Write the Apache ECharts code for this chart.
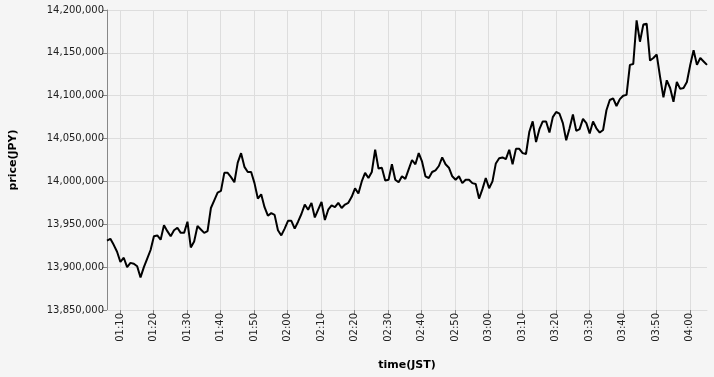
<!DOCTYPE html>
<html>
<head>
<meta charset="utf-8">
<script src="https://cdn.jsdelivr.net/npm/echarts@6/dist/echarts.min.js"></script>
<style>
html,body{margin:0;padding:0;background:#f5f5f5;}
#chart{width:714px;height:377px;}
</style>
</head>
<body>
<div id="chart"></div>
<script>
// Start time 01:06:07, one sample per minute
const startTime = [1, 6, 7];
const prices = [
13931,13933,13926,13918,13906,13911,13900,13905,13904,13901,
13888,13900,13910,13920,13936,13937,13932,13949,13942,13936,
13943,13946,13940,13940,13953,13923,13930,13948,13944,13940,
13942,13969,13978,13987,13989,14010,14010,14005,13999,14022,
14033,14017,14011,14011,13998,13980,13985,13970,13960,13963,
13961,13943,13937,13945,13954,13954,13945,13953,13962,13973,
13967,13975,13958,13967,13976,13955,13967,13972,13970,13975,
13969,13973,13975,13982,13992,13986,14000,14010,14004,14011,
14037,14015,14016,14001,14002,14020,14002,13999,14006,14003,
14014,14025,14020,14033,14023,14006,14004,14011,14013,14018,
14028,14020,14016,14006,14002,14006,13998,14002,14002,13998,
13997,13980,13991,14004,13992,14000,14021,14027,14028,14026,
14037,14020,14038,14038,14033,14032,14058,14070,14046,14061,
14070,14070,14057,14075,14081,14079,14068,14048,14062,14078,
14059,14061,14073,14068,14056,14070,14062,14057,14060,14083,
14095,14097,14088,14096,14100,14101,14136,14137,14188,14163,
14183,14184,14141,14144,14148,14122,14098,14118,14109,14093,
14116,14108,14109,14116,14136,14153,14136,14144,14140,14136
].map(v => v * 1000);
const xTickLabels = ['01:10','01:20','01:30','01:40','01:50','02:00','02:10','02:20','02:30',
  '02:40','02:50','03:00','03:10','03:20','03:30','03:40','03:50','04:00'];
const yMin = 13850000, yMax = 14200000, yStep = 50000;

// x values: minutes since 00:00
const t0 = startTime[0] * 60 + startTime[1] + startTime[2] / 60;
const seriesData = prices.map((p, i) => [t0 + i, p]);
const tMin = seriesData[0][0], tMax = seriesData[seriesData.length - 1][0];
const xTicks = xTickLabels.map(s => { const [h, m] = s.split(':').map(Number); return h * 60 + m; });

const pad = n => (n < 10 ? '0' : '') + n;
const fmtTime = v => { const m = Math.round(v); return pad(Math.floor(m / 60)) + ':' + pad(m % 60); };
const chart = echarts.init(document.getElementById('chart'), null, {renderer: 'canvas'});
chart.setOption({
  backgroundColor: '#f5f5f5',
  animation: false,
  grid: {left: 107, right: 7, top: 10, bottom: 67, containLabel: false},
  xAxis: {
    type: 'value',
    min: tMin, max: tMax,
    name: 'time(JST)',
    nameLocation: 'middle',
    nameGap: 50,
    nameTextStyle: {fontFamily: 'DejaVu Sans', fontSize: 11, fontWeight: 'bold', color: '#000'},
    axisLine: {show: true, lineStyle: {color: '#dddddd', width: 1}},
    axisTick: {show: true, length: 5, lineStyle: {color: '#888'}, customValues: xTicks},
    splitLine: {show: true, lineStyle: {color: '#dddddd', width: 1}},
    axisLabel: {
      rotate: 90, margin: 3, fontFamily: 'DejaVu Sans', fontSize: 10, color: '#222',
      customValues: xTicks,
      formatter: fmtTime
    }
  },
  yAxis: {
    type: 'value',
    min: yMin, max: yMax, interval: yStep,
    name: 'price(JPY)',
    nameLocation: 'middle',
    nameGap: 88,
    nameTextStyle: {fontFamily: 'DejaVu Sans', fontSize: 11, fontWeight: 'bold', color: '#000'},
    axisLine: {show: true, lineStyle: {color: '#888', width: 1}},
    axisTick: {show: true, length: 5, lineStyle: {color: '#888'}},
    splitLine: {show: true, lineStyle: {color: '#dddddd', width: 1}},
    axisLabel: {
      margin: 3, fontFamily: 'DejaVu Sans', fontSize: 10, color: '#222',
      formatter: v => v.toLocaleString('en-US')
    }
  },
  series: [{
    type: 'line',
    data: seriesData,
    showSymbol: false,
    symbol: 'none',
    lineStyle: {color: '#000', width: 2},
    itemStyle: {color: '#000'}
  }]
});
</script>
</body>
</html>
